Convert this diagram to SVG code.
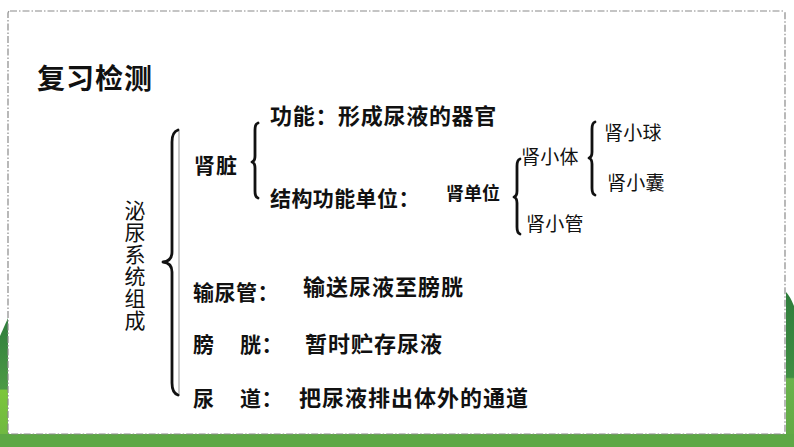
<svg xmlns="http://www.w3.org/2000/svg" width="794" height="447" viewBox="0 0 794 447">
<style>
.t{font-family:"Noto Sans CJK SC","Noto Sans",sans-serif;fill:#111;}
.b{font-weight:700;}
.r{font-weight:400;}
.brace{fill:none;stroke:#111;stroke-width:2.8;stroke-linecap:round;stroke-linejoin:round;}
.shadow{fill:none;stroke:#c8c8c8;stroke-width:2;}
</style>
<defs>
<linearGradient id="gl" x1="0" y1="0" x2="0" y2="1">
<stop offset="0" stop-color="#2f7d3c"/><stop offset="0.55" stop-color="#4c9a45"/><stop offset="0.56" stop-color="#7cc63a"/><stop offset="1" stop-color="#6cb444"/>
</linearGradient>
<linearGradient id="gr" x1="0" y1="0" x2="0" y2="1">
<stop offset="0" stop-color="#2f7d3c"/><stop offset="0.55" stop-color="#3f8e42"/><stop offset="0.56" stop-color="#6ab34c"/><stop offset="1" stop-color="#5fa843"/>
</linearGradient>
</defs>
<rect width="794" height="447" fill="#fff"/>
<path d="M0,336 L8,318 L8,447 L0,447 Z" fill="url(#gl)"/>
<path d="M786,292 Q790,296 794,306 L794,447 L786,447 Z" fill="url(#gr)"/>
<rect x="0" y="434" width="794" height="13" fill="#5da845"/>
<rect x="8" y="11" width="777" height="423" rx="2" fill="#fff" stroke="#8a8a8a" stroke-width="1.2" stroke-dasharray="7,2,1.5,2"/>

<g id="title"><text class="t b" x="37" y="89" font-size="28" letter-spacing="1">复习检测</text></g>

<g id="connectors">
<path class="shadow" d="M179,131 L179,396"/>
<path class="brace" d="M178,130 Q172,132 172,142 L172,252 Q172,261 163,262 Q172,263 172,272 L172,383 Q172,393 178,395"/>
<path class="brace" d="M258,123 Q255,124 255,130 L255,156 Q255,161 252,162 Q255,163 255,168 L255,191 Q255,197 258,198"/>
<path class="brace" d="M520,159 Q517,160 517,166 L517,191 Q517,196 514,197 Q517,198 517,203 L517,227 Q517,233 520,234"/>
<path class="brace" d="M595,122 Q592,123 592,129 L592,152 Q592,157 589,158 Q592,159 592,164 L592,188 Q592,194 595,195"/>
</g>

<g id="root"><text class="t r" x="135" y="200" font-size="21" letter-spacing="1" writing-mode="tb" style="writing-mode:vertical-rl">泌尿系统组成</text></g>

<g id="kidney"><text class="t b" x="194" y="173" font-size="21" letter-spacing="1">肾脏</text></g>
<g id="function"><text class="t b" x="270" y="124" font-size="22" letter-spacing="0.7">功能：形成尿液的器官</text></g>
<g id="structure"><text class="t b" x="270" y="206" font-size="21" letter-spacing="0.4">结构功能单位：</text></g>
<g id="nephron"><text class="t b" x="446" y="200" font-size="18">肾单位</text></g>
<g id="corpuscle"><text class="t r" x="521" y="164" font-size="19" letter-spacing="0.3">肾小体</text></g>
<g id="tubule"><text class="t r" x="526" y="231" font-size="19" letter-spacing="0.3">肾小管</text></g>
<g id="glomerulus"><text class="t r" x="604" y="140" font-size="19" letter-spacing="0.3">肾小球</text></g>
<g id="capsule"><text class="t r" x="607" y="190" font-size="19" letter-spacing="0.3">肾小囊</text></g>

<g id="ureter"><text class="t b" x="193" y="300" font-size="21" letter-spacing="0.5">输尿管：</text><text class="t b" x="303" y="295" font-size="22" letter-spacing="1">输送尿液至膀胱</text></g>
<g id="bladder"><text class="t b" x="193" y="352" font-size="21">膀</text><text class="t b" x="240" y="352" font-size="21" letter-spacing="0.5">胱：</text><text class="t b" x="305" y="352" font-size="22" letter-spacing="1">暂时贮存尿液</text></g>
<g id="urethra"><text class="t b" x="193" y="406" font-size="21">尿</text><text class="t b" x="240" y="406" font-size="21" letter-spacing="0.5">道：</text><text class="t b" x="299" y="406" font-size="22" letter-spacing="1">把尿液排出体外的通道</text></g>
</svg>
